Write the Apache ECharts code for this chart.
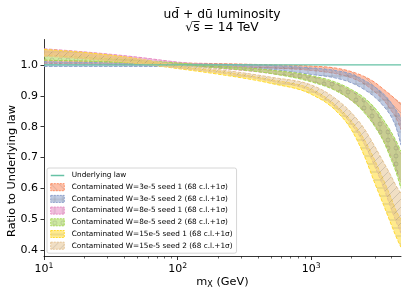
<!DOCTYPE html>
<html><head><meta charset="utf-8">
<script src="https://cdn.jsdelivr.net/npm/echarts@6/dist/echarts.min.js"></script>
<style>html,body{margin:0;padding:0;background:#fff}#c{width:407px;height:295px}</style>
</head><body><div id="c"></div>
<script>
// ---- data ----
const massGeV = [10, 20, 50, 100, 200, 500, 1000, 1500, 2000, 2500, 3000, 3500, 4000, 4300, 4700];
const underlyingLaw = [1, 1, 1, 1, 1, 1, 1, 1, 1, 1, 1, 1, 1, 1, 1];

const w3s1Upper = [1.015, 1.012, 1.008, 1.006, 1.004, 1.000, 0.996, 0.990, 0.978, 0.962, 0.943, 0.920, 0.900, 0.888, 0.875];
const w3s1Lower = [1.005, 1.003, 1.000, 0.998, 0.995, 0.990, 0.982, 0.972, 0.958, 0.938, 0.912, 0.885, 0.850, 0.830, 0.790];
const w3s2Upper = [1.010, 1.008, 1.005, 1.004, 1.002, 0.998, 0.990, 0.982, 0.970, 0.950, 0.928, 0.905, 0.875, 0.855, 0.830];
const w3s2Lower = [0.995, 0.995, 0.995, 0.994, 0.992, 0.985, 0.969, 0.958, 0.942, 0.920, 0.895, 0.865, 0.830, 0.800, 0.740];
const w8s1Upper = [1.052, 1.042, 1.025, 1.009, 0.998, 0.982, 0.962, 0.940, 0.915, 0.885, 0.850, 0.810, 0.770, 0.745, 0.710];
const w8s1Lower = [1.032, 1.025, 1.012, 1.000, 0.989, 0.972, 0.948, 0.920, 0.885, 0.850, 0.805, 0.755, 0.700, 0.665, 0.620];
const w8s2Upper = [1.030, 1.024, 1.015, 1.006, 0.997, 0.983, 0.965, 0.945, 0.920, 0.893, 0.860, 0.820, 0.780, 0.755, 0.720];
const w8s2Lower = [1.015, 1.012, 1.005, 0.998, 0.990, 0.972, 0.945, 0.918, 0.885, 0.845, 0.800, 0.750, 0.690, 0.655, 0.600];
const w15s1Upper = [1.050, 1.040, 1.020, 0.996, 0.980, 0.952, 0.922, 0.872, 0.818, 0.758, 0.690, 0.625, 0.565, 0.530, 0.500];
const w15s1Lower = [1.030, 1.020, 1.005, 0.988, 0.970, 0.940, 0.905, 0.855, 0.790, 0.705, 0.616, 0.544, 0.480, 0.446, 0.410];
const w15s2Upper = [1.045, 1.035, 1.018, 1.000, 0.985, 0.960, 0.935, 0.893, 0.845, 0.793, 0.735, 0.683, 0.637, 0.610, 0.585];
const w15s2Lower = [1.028, 1.020, 1.006, 0.990, 0.975, 0.947, 0.915, 0.865, 0.808, 0.743, 0.670, 0.600, 0.530, 0.495, 0.455];

const xMajorTicks = [10, 100, 1000];
const xMinorTicks = [20, 30, 40, 50, 60, 70, 80, 90, 200, 300, 400, 500, 600, 700, 800, 900, 2000, 3000, 4000];
const yTicks = [0.4, 0.5, 0.6, 0.7, 0.8, 0.9, 1.0];

const lawName = 'Underlying law';
const bandNames = [
  'Contaminated W=3e-5 seed 1 (68 c.l.+1σ)',
  'Contaminated W=3e-5 seed 2 (68 c.l.+1σ)',
  'Contaminated W=8e-5 seed 1 (68 c.l.+1σ)',
  'Contaminated W=8e-5 seed 2 (68 c.l.+1σ)',
  'Contaminated W=15e-5 seed 1 (68 c.l.+1σ)',
  'Contaminated W=15e-5 seed 2 (68 c.l.+1σ)'
];
const bandUpper = [w3s1Upper, w3s2Upper, w8s1Upper, w8s2Upper, w15s1Upper, w15s2Upper];
const bandLower = [w3s1Lower, w3s2Lower, w8s1Lower, w8s2Lower, w15s1Lower, w15s2Lower];

// ---- styles ----
const lawColor = '#66c2a5';
const bandColors = ['#fc8d62', '#8da0cb', '#e78ac3', '#a6d854', '#ffd92f', '#e5c494'];
const bandHatch = ['\\', '+', '|', 'o', '-', '/'];

function hexA(hex, a) {
  const n = parseInt(hex.slice(1), 16);
  return 'rgba(' + (n >> 16) + ',' + ((n >> 8) & 255) + ',' + (n & 255) + ',' + a + ')';
}
function hatchPattern(hex, kind) {
  const s = 8, c = document.createElement('canvas');
  c.width = s; c.height = s;
  const g = c.getContext('2d');
  g.fillStyle = hexA(hex, 0.55);
  g.fillRect(0, 0, s, s);
  g.strokeStyle = 'rgba(90,90,90,0.28)';
  g.lineWidth = 0.8;
  g.beginPath();
  if (kind === '/') { g.moveTo(0, s); g.lineTo(s, 0); g.moveTo(-1, 1); g.lineTo(1, -1); g.moveTo(s - 1, s + 1); g.lineTo(s + 1, s - 1); }
  else if (kind === '\\') { g.moveTo(0, 0); g.lineTo(s, s); g.moveTo(s - 1, -1); g.lineTo(s + 1, 1); g.moveTo(-1, s - 1); g.lineTo(1, s + 1); }
  else if (kind === '|') { g.moveTo(4, 0); g.lineTo(4, s); }
  else if (kind === '-') { g.moveTo(0, 4); g.lineTo(s, 4); }
  else if (kind === '+') { g.moveTo(4, 0); g.lineTo(4, s); g.moveTo(0, 4); g.lineTo(s, 4); }
  else if (kind === 'o') { g.arc(4, 4, 2, 0, Math.PI * 2); }
  g.stroke();
  return { image: c, repeat: 'repeat' };
}

// monotone cubic (x-monotone) bezier segments through pixel points
function monoSegs(P) {
  const n = P.length, s = [], t = new Array(n);
  for (let i = 0; i < n - 1; i++) s[i] = (P[i + 1][1] - P[i][1]) / (P[i + 1][0] - P[i][0]);
  for (let i = 1; i < n - 1; i++) {
    const s0 = s[i - 1], s1 = s[i];
    if (s0 * s1 <= 0) { t[i] = 0; continue; }
    const h0 = P[i][0] - P[i - 1][0], h1 = P[i + 1][0] - P[i][0];
    const p = (s0 * h1 + s1 * h0) / (h0 + h1);
    t[i] = (Math.sign(s0) + Math.sign(s1)) * Math.min(Math.abs(s0), Math.abs(s1), 0.5 * Math.abs(p));
  }
  t[0] = (3 * s[0] - t[1]) / 2;
  t[n - 1] = (3 * s[n - 2] - t[n - 2]) / 2;
  const segs = [];
  for (let i = 0; i < n - 1; i++) {
    const dx = (P[i + 1][0] - P[i][0]) / 3;
    segs.push([P[i], [P[i][0] + dx, P[i][1] + dx * t[i]], [P[i + 1][0] - dx, P[i + 1][1] - dx * t[i + 1]], P[i + 1]]);
  }
  return segs;
}
const f = v => v.toFixed(2);
function linePath(P) {
  let d = 'M' + f(P[0][0]) + ' ' + f(P[0][1]);
  monoSegs(P).forEach(g => { d += 'C' + f(g[1][0]) + ' ' + f(g[1][1]) + ' ' + f(g[2][0]) + ' ' + f(g[2][1]) + ' ' + f(g[3][0]) + ' ' + f(g[3][1]); });
  return d;
}
function bandPath(U, L) {
  let d = linePath(U);
  const n = L.length;
  d += 'L' + f(L[n - 1][0]) + ' ' + f(L[n - 1][1]);
  monoSegs(L).reverse().forEach(g => { d += 'C' + f(g[2][0]) + ' ' + f(g[2][1]) + ' ' + f(g[1][0]) + ' ' + f(g[1][1]) + ' ' + f(g[0][0]) + ' ' + f(g[0][1]); });
  return d + 'Z';
}

const font = 'DejaVu Sans';
const dash = [3.5, 1.5];
const series = [];
bandNames.forEach((name, i) => {
  const col = bandColors[i];
  const pat = hatchPattern(col, bandHatch[i]);
  series.push({
    type: 'custom', name: name, z: 1, silent: true, clip: true,
    itemStyle: { color: col },
    data: massGeV.map((m, k) => [m, bandLower[i][k], bandUpper[i][k]]),
    encode: { x: 0, y: [1, 2] },
    renderItem: (params, api) => {
      if (params.dataIndex !== 0) return null;
      const up = massGeV.map((m, k) => api.coord([m, bandUpper[i][k]]));
      const lo = massGeV.map((m, k) => api.coord([m, bandLower[i][k]]));
      const ls = { stroke: col, lineWidth: 1, lineDash: dash, fill: null };
      return {
        type: 'group',
        children: [
          { type: 'path', shape: { pathData: bandPath(up, lo) }, style: { fill: pat } },
          { type: 'path', shape: { pathData: linePath(up) }, style: ls },
          { type: 'path', shape: { pathData: linePath(lo) }, style: ls }
        ]
      };
    }
  });
});
series.push({
  type: 'line', name: lawName, data: massGeV.map((m, k) => [m, underlyingLaw[k]]),
  symbol: 'none', silent: true, z: 2,
  lineStyle: { color: lawColor, width: 1.3 }, itemStyle: { color: lawColor }
});

const legendData = [{ name: lawName, itemStyle: { color: 'rgba(0,0,0,0)', borderWidth: 0, opacity: 0 }, lineStyle: { color: lawColor, width: 1.5 } }]
  .concat(bandNames.map((n, i) => ({
    name: n, icon: 'rect',
    itemStyle: { color: hatchPattern(bandColors[i], bandHatch[i]), borderColor: bandColors[i], borderWidth: 1, borderType: [2, 1] }
  })));

const chart = echarts.init(document.getElementById('c'), null, { renderer: 'canvas' });
chart.setOption({
  animation: false,
  backgroundColor: '#fff',
  textStyle: { fontFamily: font },
  title: {
    text: 'ud\u0304 + dū luminosity\n√s\u0305 = 14 TeV',
    left: 222, top: 8, padding: 0, textAlign: 'center',
    textStyle: { fontFamily: font, fontSize: 12.3, fontWeight: 'normal', color: '#000', lineHeight: 13.5 }
  },
  grid: { left: 44, right: 6, top: 39.5, bottom: 38.5, containLabel: false, outerBoundsMode: 'none' },
  legend: {
    orient: 'vertical', left: 47, top: 168, z: 10,
    padding: [3, 4, 3, 3], itemGap: 2.7, itemWidth: 13.5, itemHeight: 7,
    backgroundColor: 'rgba(255,255,255,0.8)', borderColor: '#cccccc', borderWidth: 0.8, borderRadius: 2,
    textStyle: { fontFamily: font, fontSize: 7.3, color: '#000', lineHeight: 9, padding: [0, 0, 0, 2.5] },
    data: legendData
  },
  xAxis: [{
    type: 'log', logBase: 10, min: 10, max: 4700,
    name: '{m|m}{s|X}{m| (GeV)}', nameLocation: 'middle', nameGap: 19, nameMoveOverlap: false,
    nameTextStyle: { rich: {
      m: { fontFamily: font, fontSize: 11.3, color: '#000' },
      s: { fontFamily: font, fontSize: 8, color: '#000', padding: [5, 0, 0, 0] }
    } },
    axisLine: { lineStyle: { color: '#000', width: 0.8 } },
    axisTick: { customValues: xMajorTicks, length: 3.5, lineStyle: { color: '#000', width: 0.8 } },
    axisLabel: {
      customValues: xMajorTicks, margin: 6,
      formatter: v => '{b|10}{p|' + Math.round(Math.log10(v)) + '}',
      rich: {
        b: { fontFamily: font, fontSize: 11, color: '#000' },
        p: { fontFamily: font, fontSize: 7.7, color: '#000', padding: [0, 0, 5, 0] }
      }
    },
    splitLine: { show: false }, minorTick: { show: false }
  }, {
    type: 'log', logBase: 10, min: 10, max: 4700, position: 'bottom',
    axisLine: { show: false },
    axisTick: { customValues: xMinorTicks, length: 2, lineStyle: { color: '#000', width: 0.6 } },
    axisLabel: { show: false }, splitLine: { show: false }
  }],
  yAxis: {
    type: 'value', min: 0.38, max: 1.082,
    name: 'Ratio to Underlying law', nameLocation: 'middle', nameGap: 26, nameMoveOverlap: false,
    nameTextStyle: { fontFamily: font, fontSize: 11.3, color: '#000', padding: [0, 46, 0, 0] },
    axisLine: { show: true, lineStyle: { color: '#000', width: 0.8 } },
    axisTick: { show: true, customValues: yTicks, length: 3.5, lineStyle: { color: '#000', width: 0.8 } },
    axisLabel: { customValues: yTicks, margin: 6, formatter: v => v.toFixed(1), fontFamily: font, fontSize: 11, color: '#000' },
    splitLine: { show: false }
  },
  series: series
});
</script></body></html>
